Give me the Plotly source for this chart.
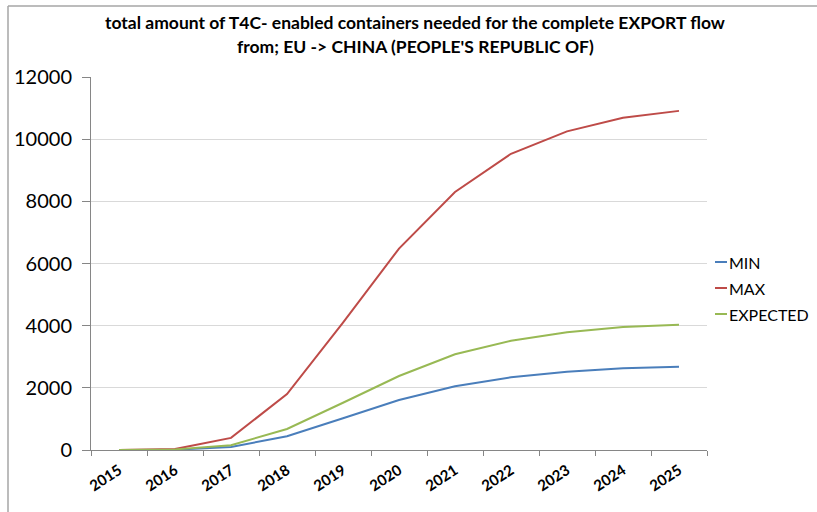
import plotly.graph_objects as go

years = ["2015", "2016", "2017", "2018", "2019", "2020", "2021", "2022", "2023", "2024", "2025"]
min_vals = [0, 10, 100, 440, 1020, 1610, 2050, 2340, 2520, 2630, 2680]
max_vals = [0, 30, 390, 1800, 4100, 6480, 8300, 9530, 10250, 10690, 10910]
expected_vals = [0, 20, 155, 675, 1520, 2380, 3080, 3515, 3785, 3955, 4030]

series_names = ["MIN", "MAX", "EXPECTED"]
series_colors = ["#4a7ebb", "#be4b48", "#98b954"]
series_values = [min_vals, max_vals, expected_vals]

W, H = 817, 512
L, R, T, B = 91, 110, 77, 62
PW, PH = W - L - R, H - T - B


def px(x):
    return (x - L) / PW


def py(y):
    return 1 - (y - T) / PH


FONT = "Lato"

fig = go.Figure()
for name, color, vals in zip(series_names, series_colors, series_values):
    fig.add_trace(go.Scatter(x=years, y=vals, mode="lines", name=name,
                             line=dict(color=color, width=2), showlegend=False))

shapes = []
annotations = []

# outer chart border (top and left visible)
shapes.append(dict(type="line", xref="paper", yref="paper", x0=px(8), x1=px(830),
                   y0=py(6), y1=py(6), line=dict(color="#a6a6a6", width=1.5)))
shapes.append(dict(type="line", xref="paper", yref="paper", x0=px(8), x1=px(8),
                   y0=py(6), y1=py(520), line=dict(color="#a6a6a6", width=1.5)))

# manual legend
legend_y = [262, 288, 314]
for name, color, ly in zip(series_names, series_colors, legend_y):
    shapes.append(dict(type="line", xref="paper", yref="paper", x0=px(715), x1=px(727),
                       y0=py(ly), y1=py(ly), line=dict(color=color, width=2)))
    annotations.append(dict(xref="paper", yref="paper", x=px(727), y=py(ly), text=name,
                            showarrow=False, xanchor="left", yanchor="middle",
                            font=dict(family=FONT, size=16, color="#000000")))

# title
title_lines = ["total amount of T4C- enabled containers needed for the complete EXPORT flow",
               "from; EU -> CHINA (PEOPLE'S REPUBLIC OF)"]
for line, ty in zip(title_lines, [23, 47]):
    annotations.append(dict(xref="paper", yref="paper", x=px(415), y=py(ty), text="<b>" + line + "</b>",
                            showarrow=False, xanchor="center", yanchor="middle",
                            font=dict(family=FONT, size=17.5, color="#000000")))

fig.update_layout(
    width=W, height=H,
    margin=dict(l=L, r=R, t=T, b=B),
    paper_bgcolor="white", plot_bgcolor="white",
    shapes=shapes, annotations=annotations,
    showlegend=False,
    font=dict(family=FONT, color="#000000"),
)
fig.update_xaxes(type="category", range=[-0.5, 10.5], tickson="boundaries",
                 ticks="outside", ticklen=5, tickcolor="#868686",
                 showline=True, linecolor="#868686", linewidth=1,
                 showgrid=False, tickangle=-33, ticklabelstandoff=5,
                 tickfont=dict(family=FONT, size=15, color="#000000"),
                 tickprefix="<b>", ticksuffix="</b>")
fig.update_yaxes(range=[0, 12000], dtick=2000, tickformat="d", ticks="outside", ticklen=8,
                 tickcolor="#868686", showline=True, linecolor="#868686", linewidth=1,
                 showgrid=True, gridcolor="#d9d9d9", gridwidth=1, zeroline=False,
                 ticklabelstandoff=6,
                 tickfont=dict(family=FONT, size=20, color="#000000"))

fig.write_html("out.html")
